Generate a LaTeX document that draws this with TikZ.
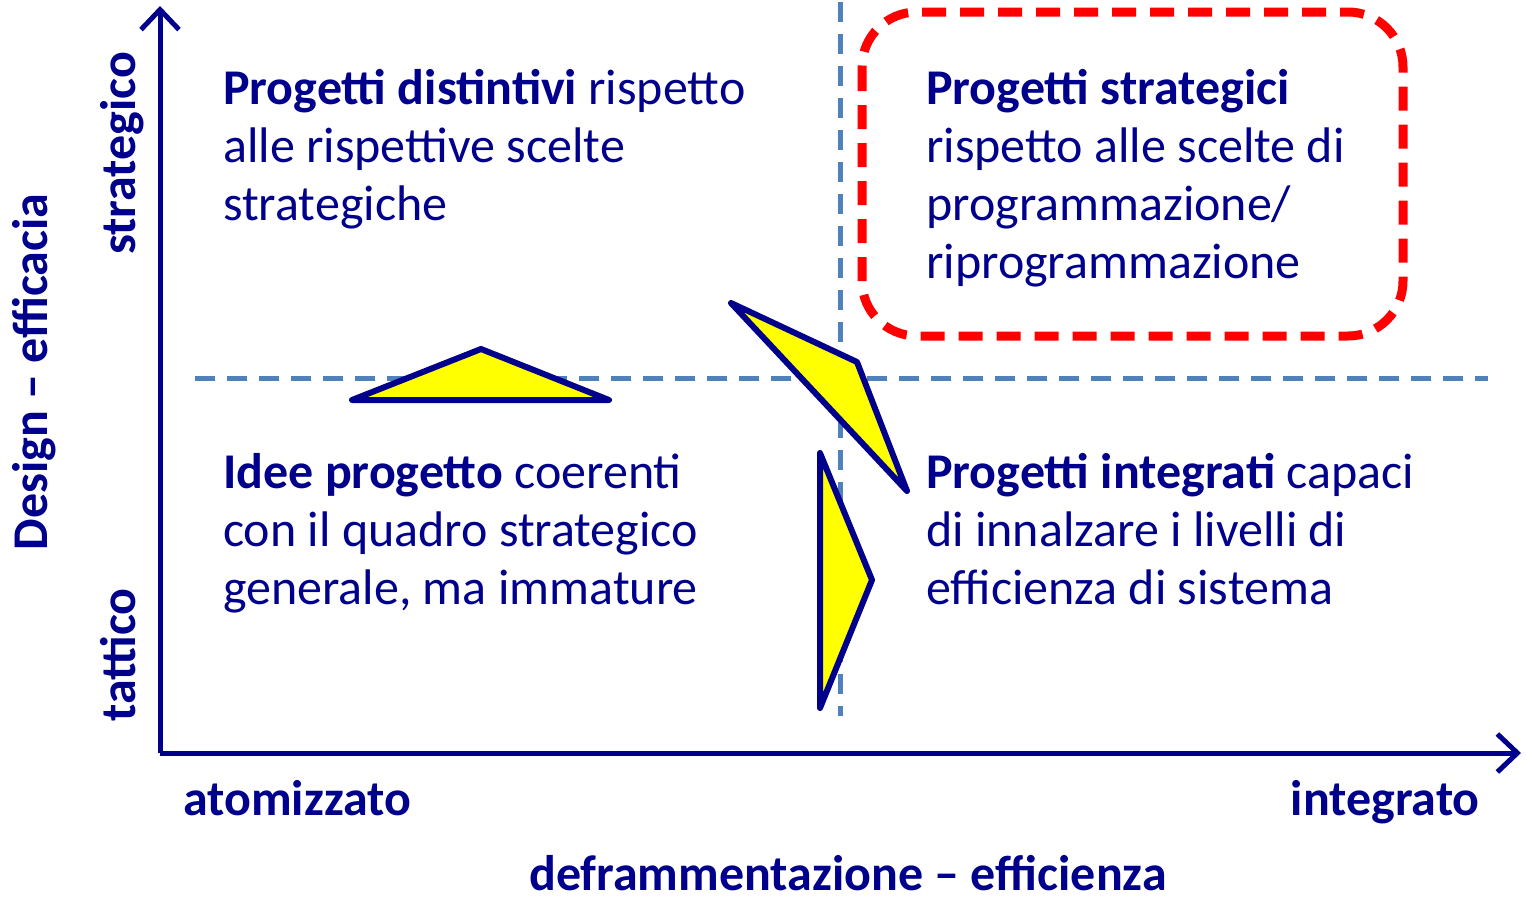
\documentclass[tikz,border=0pt]{standalone}
\usepackage{fontspec}
\setmainfont{Carlito}
\usetikzlibrary{arrows.meta}

\definecolor{navy}{RGB}{0,0,140}
\definecolor{gridblue}{RGB}{79,129,189}
\definecolor{boxred}{RGB}{255,0,0}
\definecolor{wedge}{RGB}{255,255,0}

\tikzset{
  axis/.style={draw=navy, line width=5pt, -{Straight Barb[length=20pt,width=38pt,line width=5pt]}},
  quadline/.style={draw=gridblue, line width=5pt, dash pattern=on 20pt off 12pt},
  redbox/.style={draw=boxred, line width=9pt, rounded corners=55pt, dash pattern=on 24pt off 14pt},
  wedgebox/.style={draw=navy, fill=wedge, line width=6pt, line join=round},
  quadtext/.style={inner sep=0pt, anchor=base west, align=left, text=navy, font=\fontsize{50}{58}\selectfont},
  axislabel/.style={inner sep=0pt, text=navy, font=\fontsize{50}{58}\selectfont\bfseries}
}

\begin{document}
\begin{tikzpicture}[x=1pt,y=-1pt]
\useasboundingbox (0,0) rectangle (1527,902);

% axes
\coordinate (origin) at (160,753);
\coordinate (ytop) at (160,6);
\coordinate (xend) at (1521,753);
\draw [axis] (origin) -- (ytop);
\draw [axis] (origin) -- (xend);

% quadrant separators
\coordinate (hl) at (195,378);
\coordinate (hr) at (1488,378);
\coordinate (vt) at (840,2);
\coordinate (vb) at (840,716);
\draw [quadline] (hl) -- (hr);
\draw [quadline] (vt) -- (vb);

% highlighted quadrant
\draw [redbox] (862,12) rectangle (1403,336);

% wedges
\draw [wedgebox] (352,400) -- (481,349) -- (609,400) -- cycle;
\draw [wedgebox] (731,303) -- (857,362) -- (907,491) -- cycle;
\draw [wedgebox] (820,453) -- (872,580) -- (820,708) -- cycle;

% quadrant texts (base = last line)
\node (qtl) [quadtext] at (223,220) {\textbf{Progetti distintivi} rispetto\\alle rispettive scelte\\strategiche};
\node (qtr) [quadtext] at (926,278) {\textbf{Progetti strategici}\\rispetto alle scelte di\\programmazione/\\riprogrammazione};
\node (qbl) [quadtext] at (223,604) {\textbf{Idee progetto} coerenti\\con il quadro strategico\\generale, ma immature};
\node (qbr) [quadtext] at (926,604) {\textbf{Progetti integrati} capaci\\di innalzare i livelli di\\efficienza di sistema};

% axis labels
\node (strat) [axislabel, rotate=90, anchor=base west] at (135,255) {strategico};
\node (tatt) [axislabel, rotate=90, anchor=base west] at (135,722) {tattico};
\node (design) [axislabel, rotate=90, anchor=base] at (47,372) {Design – efficacia};
\node (atom) [axislabel, anchor=base west] at (183,815) {atomizzato};
\node (integr) [axislabel, anchor=base east] at (1480,815) {integrato};
\node (defr) [axislabel, anchor=base] at (848,890) {deframmentazione – efficienza};

\end{tikzpicture}
\end{document}
